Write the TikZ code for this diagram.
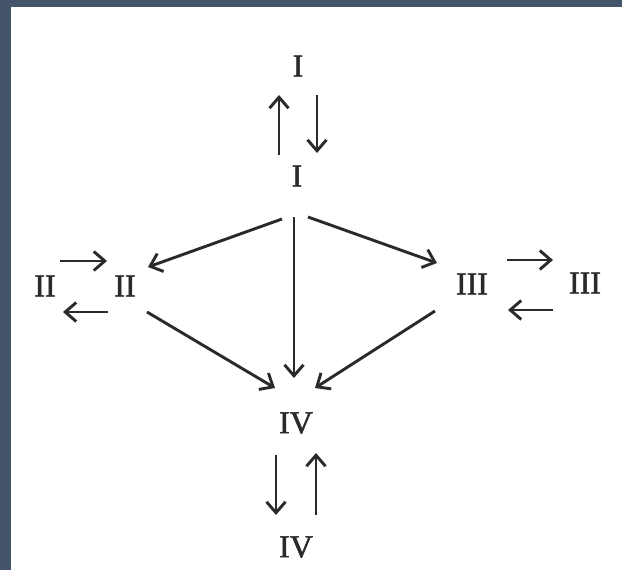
\documentclass[tikz,border=0pt]{standalone}
\usepackage{fontspec}
\newfontfamily\numfont{Liberation Serif}[FakeBold=1.6]
\usetikzlibrary{arrows.meta,calc}
\definecolor{frame}{HTML}{44546A}
\definecolor{ink}{HTML}{2A2A2A}
\begin{document}
\begin{tikzpicture}[x=1pt,y=-1pt,
  num/.style={inner sep=0pt,text=ink,font=\numfont\fontsize{32}{32}\selectfont},
  arr/.style={draw=ink,line width=2.9pt,-{Straight Barb[length=11pt,width=19pt,line width=2.9pt]}}]
\fill[frame] (0,0) rectangle (622,570);
\fill[white] (11,7) rectangle (622,570);
\useasboundingbox (0,0) rectangle (622,570);
% nodes
\node[num] (it) at (298,66) {I};
\node[num] (ic) at (297,176) {I};
\node[num] (iio) at (45,286) {II};
\node[num] (iii) at (125,286) {II};
\node[num] (iiii) at (472,284) {III};
\node[num] (iiio) at (585,283) {III};
\node[num] (ivu) at (296,423) {IV};
\node[num] (ivl) at (296,547) {IV};
% I pair
\draw[arr] ($(ic)+(-18,-21)$) -- ($(it)+(-19,29)$);
\draw[arr] ($(it)+(19,29)$) -- ($(ic)+(20,-23)$);
% II pair
\draw[arr] ($(iio)+(15,-25)$) -- ($(iii)+(-18,-25)$);
\draw[arr] ($(iii)+(-17,26)$) -- ($(iio)+(18,26)$);
% III pair
\draw[arr] ($(iiii)+(35,-24)$) -- ($(iiio)+(-32,-23)$);
\draw[arr] ($(iiio)+(-32,27)$) -- ($(iiii)+(36,26)$);
% IV pair
\draw[arr] ($(ivu)+(-20,32)$) -- ($(ivl)+(-20,-32)$);
\draw[arr] ($(ivl)+(20,-32)$) -- ($(ivu)+(20,30)$);
% diagonals
\draw[arr] ($(ic)+(-15,43)$) -- ($(iii)+(23,-19)$);
\draw[arr] ($(ic)+(11,41)$) -- ($(iiii)+(-35,-21)$);
\draw[arr] ($(ic)+(-3,41)$) -- ($(ivu)+(-2,-45)$);
\draw[arr] ($(iii)+(22,26)$) -- ($(ivu)+(-21,-35)$);
\draw[arr] ($(iiii)+(-37,27)$) -- ($(ivu)+(19,-35)$);
\end{tikzpicture}
\end{document}
